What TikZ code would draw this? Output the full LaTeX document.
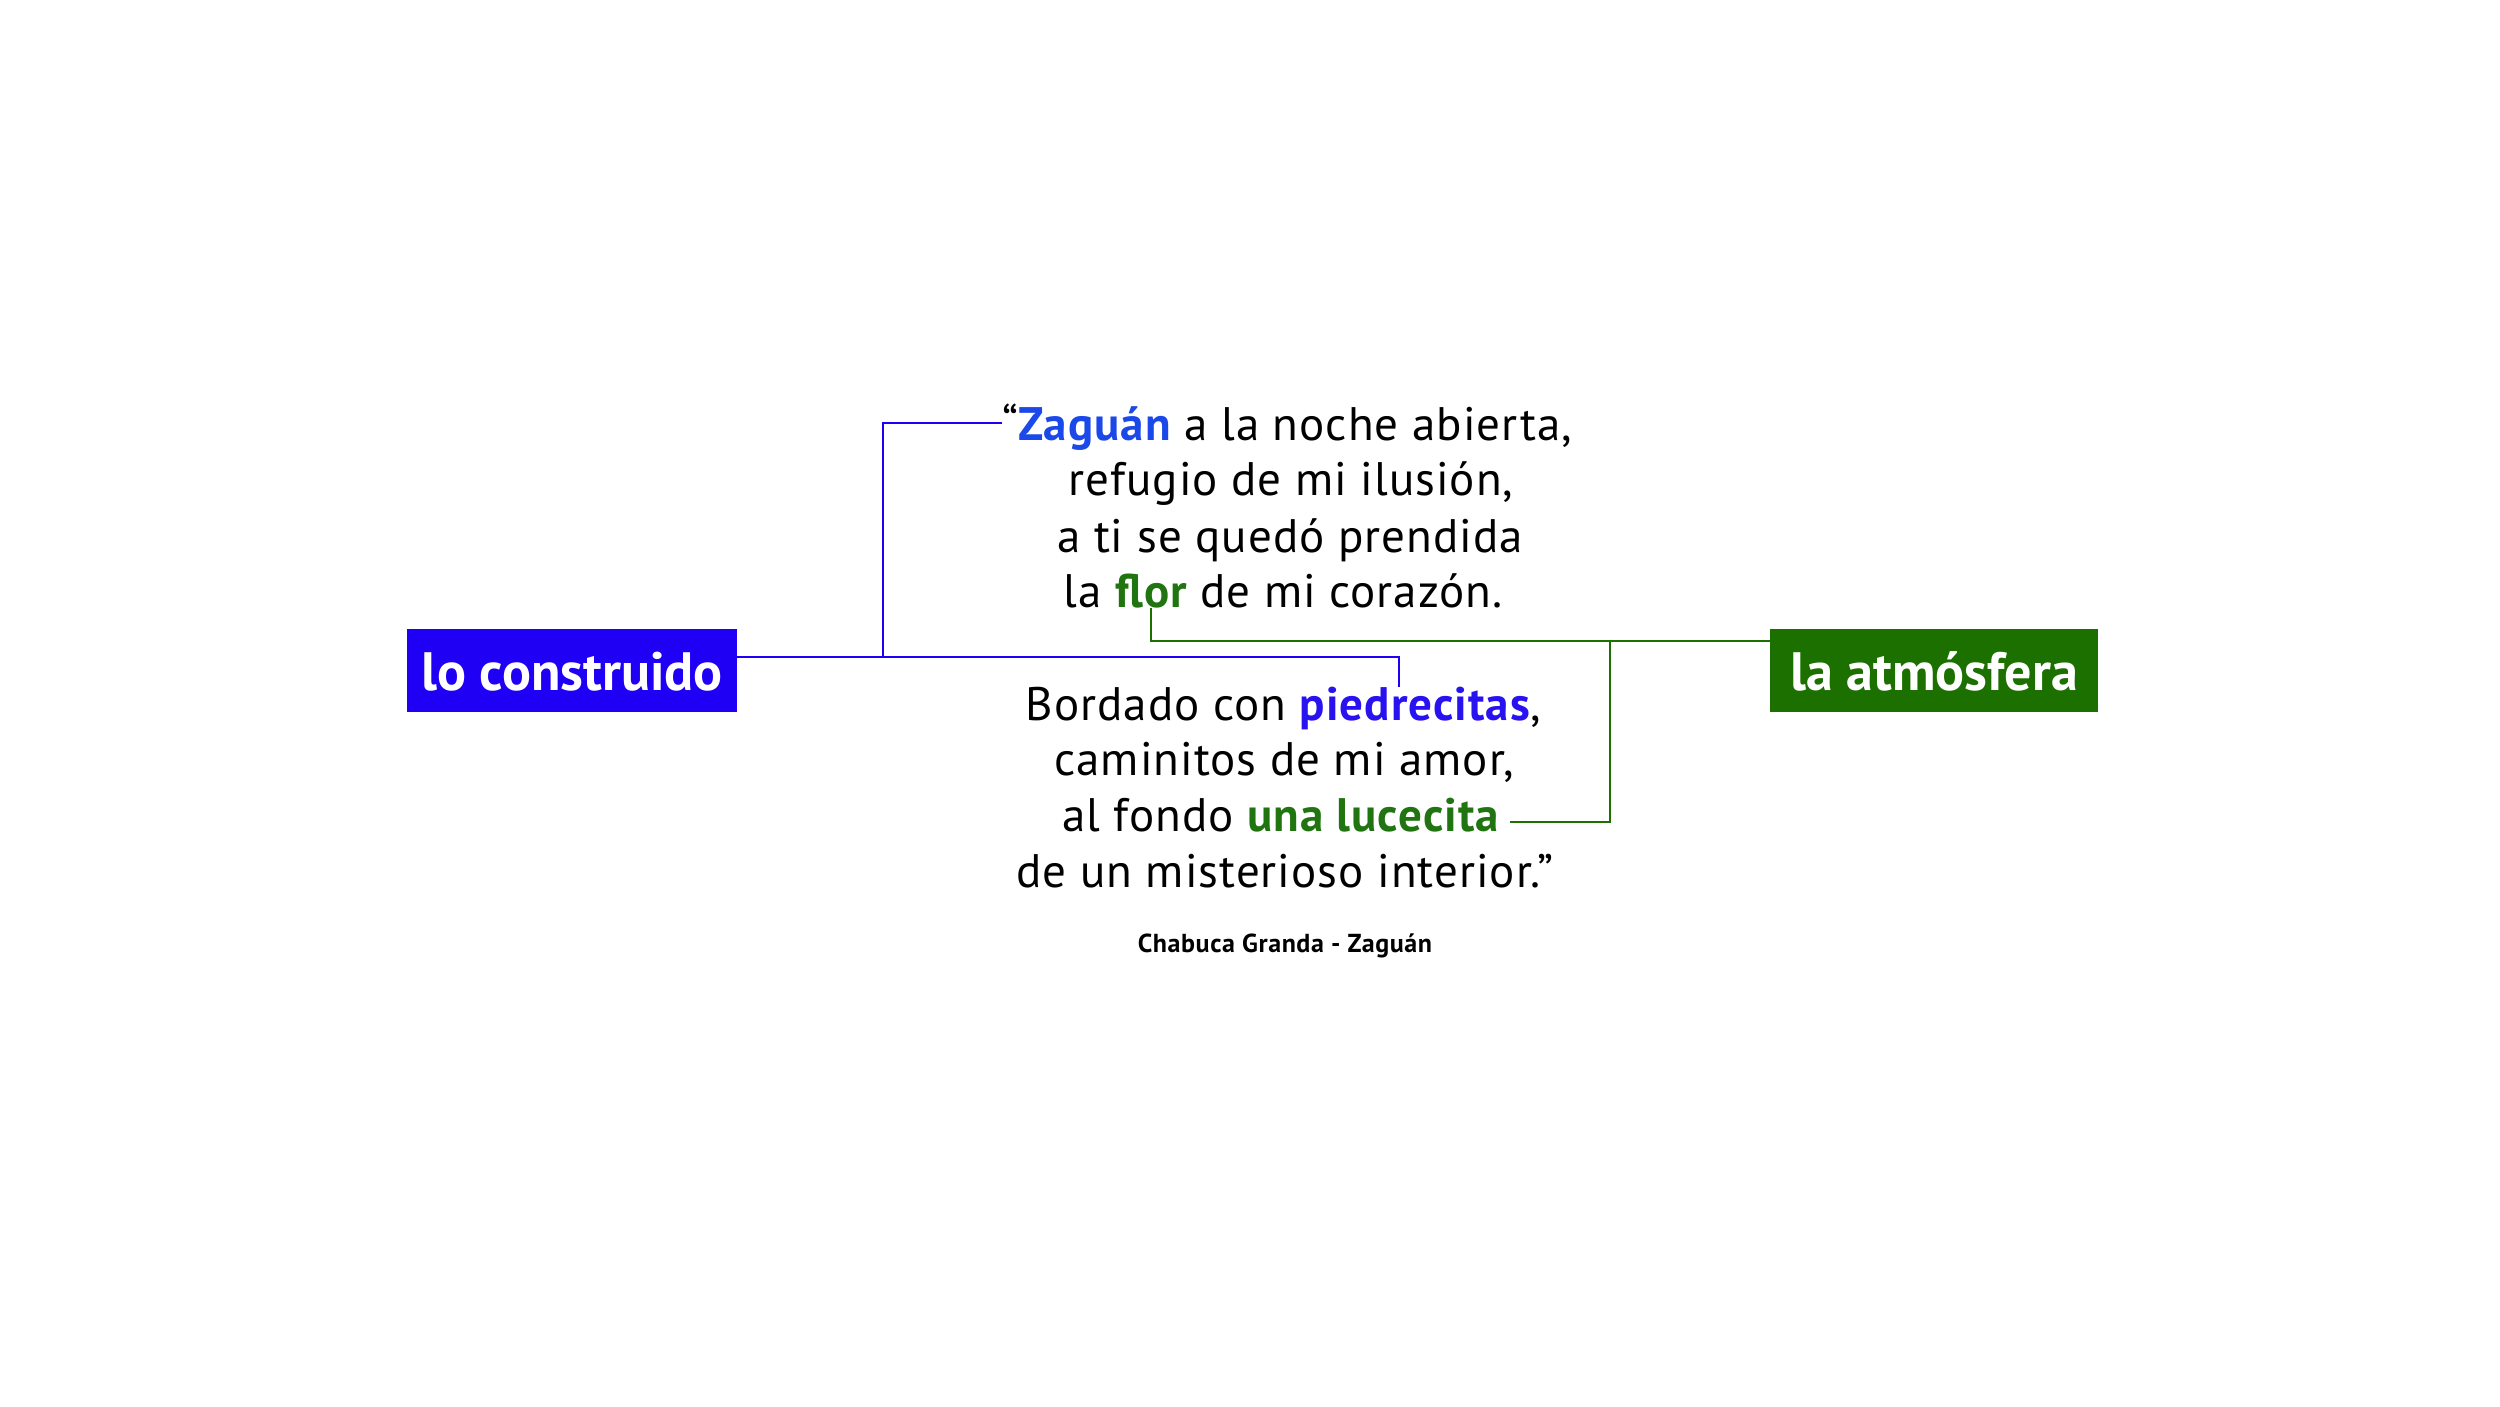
\documentclass[tikz,border=0pt]{standalone}
\usepackage{fontspec}
\setmainfont{PT Sans}
\newfontfamily\versefont[LetterSpace=2.2]{PT Sans}
\usetikzlibrary{calc}
\definecolor{cblue}{HTML}{1F00F5}
\definecolor{zblue}{HTML}{1B48E8}
\definecolor{pblue}{HTML}{2812F0}
\definecolor{cgreen}{HTML}{1C7000}
\definecolor{tgreen}{HTML}{217510}
\newcommand\wsp{\kern\fontdimen2\font}
\begin{document}
\begin{tikzpicture}[x=1pt,y=-1pt,
  verse/.style={inner sep=0pt, outer sep=0pt, text=black, font=\versefont\fontsize{47}{56}\selectfont},
  kw/.style={inner sep=0pt, outer sep=0pt, font=\versefont\fontsize{47}{56}\selectfont\bfseries},
  tag/.style={inner sep=0pt, outer sep=0pt, minimum height=83pt, text height=40pt, text depth=0pt, text=white, font=\fontsize{54}{60}\selectfont\bfseries},
  bline/.style={draw=cblue, line width=2pt},
  gline/.style={draw=cgreen, line width=2pt}]
\useasboundingbox (0,0) rectangle (2500,1406);
\fill[white] (0,0) rectangle (2500,1406);
% tags
\node[tag, fill=cblue, minimum width=330pt, anchor=north west] (lc) at (407,629) {lo construido};
\node[tag, fill=cgreen, minimum width=328pt, anchor=north west] (la) at (1770,629) {la atmósfera};
% first stanza
\node[verse, anchor=base] (v1) at (1287,440) {“\textcolor{zblue}{\bfseries Zaguán} a la noche abierta,};
\node[verse, anchor=base] (v2) at (1291,495) {refugio de mi ilusión,};
\node[verse, anchor=base] (v3) at (1290,552) {a ti se quedó prendida};
\node[kw, text=tgreen, anchor=base] (flor) at (1151,607) {flor};
\node[verse, anchor=base east] (v4a) at (flor.base west) {la\wsp};
\node[verse, anchor=base west] (v4b) at (flor.base east) {\wsp de mi corazón.};
% second stanza
\node[kw, text=pblue, anchor=base] (pied) at (1415,720) {piedrecitas};
\node[verse, anchor=base east] (w1a) at (pied.base west) {Bordado con\wsp};
\node[verse, anchor=base west] (w1b) at (pied.base east) {,};
\node[verse, anchor=base] (w2) at (1284,775) {caminitos de mi amor,};
\node[kw, text=tgreen, anchor=base east] (luc) at (1499,831) {una lucecita};
\node[verse, anchor=base east] (w3a) at (luc.base west) {al fondo\wsp};
\node[verse, anchor=base] (w4) at (1285,887) {de un misterioso interior.”};
\node[inner sep=0pt, anchor=base, font=\versefont\fontsize{26}{30}\selectfont\bfseries] (cite) at (1285,952) {Chabuca Granda - Zaguán};
% connectors
\draw[bline] ($(lc.east)+(0,-14)$) -| ($(pied.north)+(-16,0)$);
\coordinate (bj) at ($(lc.east)+(146,-14)$);
\draw[bline] (bj) |- ($(v1.base west)+(0,-17)$);
\draw[gline] ($(la.west)+(0,-30)$) -| (flor.south);
\coordinate (gj) at ($(la.west)+(-160,-30)$);
\draw[gline] (gj) |- ($(luc.base east)+(11,-9)$);
\end{tikzpicture}
\end{document}
